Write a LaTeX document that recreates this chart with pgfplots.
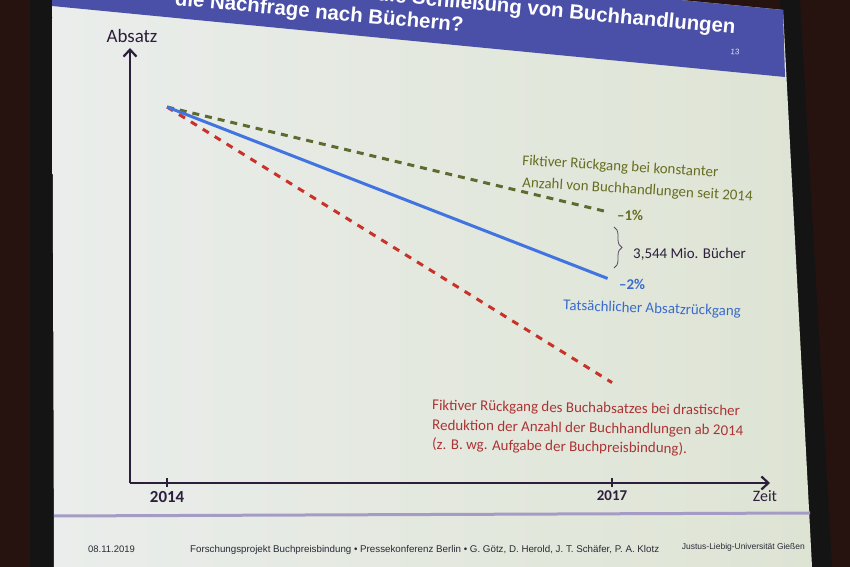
\documentclass[border=0pt]{standalone}
\usepackage{fontspec}
\setmainfont{Carlito}
\newfontfamily\arialfont{Liberation Sans}
\usepackage{pgfplots}
\pgfplotsset{compat=1.18}
\usetikzlibrary{arrows.meta,decorations.pathreplacing}
\definecolor{framebrown}{HTML}{26130F}
\definecolor{slideL}{HTML}{EAEDEB}
\definecolor{slideR}{HTML}{DEE4D4}
\definecolor{bandblue}{HTML}{4A4FA8}
\definecolor{axisdark}{HTML}{2D1E3C}
\definecolor{olivetext}{HTML}{676D20}
\definecolor{oliveline}{HTML}{5F6A2E}
\definecolor{blueline}{HTML}{4173E1}
\definecolor{bluetext}{HTML}{3A6BCC}
\definecolor{redline}{HTML}{C83228}
\definecolor{redtext}{HTML}{AC3434}
\definecolor{footline}{HTML}{A49CC4}
\definecolor{foottext}{HTML}{2A2A35}
\begin{document}
\begin{tikzpicture}[x=1bp,y=1bp]
\useasboundingbox (0,0) rectangle (850,567);
\clip (0,0) rectangle (850,567);
% background (projected slide)
\fill[framebrown] (0,0) rectangle (850,567);
\fill[black!92] (30,0) rectangle (54,567);
\fill[black!92] (780,567) -- (800,567) -- (832,0) -- (810,0) -- cycle;
\shade[left color=slideL, right color=slideR] (52,628) -- (783,557) -- (812,0) -- (54,0) -- cycle;
\fill[bandblue] (52,628) -- (783,557) -- (785,490) -- (52,561) -- cycle;
\node[anchor=base east, rotate=-5.3, text=white, inner sep=0pt,
  font=\arialfont\bfseries\fontsize{20.5}{20.5}\selectfont] at (735,533) {die Schließung von Buchhandlungen};
\node[anchor=base east, rotate=-5.3, text=white, inner sep=0pt,
  font=\arialfont\bfseries\fontsize{20.5}{20.5}\selectfont] at (463,535) {die Nachfrage nach Büchern?};
\node[text=white!85!bandblue, font=\arialfont\fontsize{8}{8}\selectfont, rotate=-5] at (735,515) {13};
% footer
\draw[footline, line width=3bp] (54,51) -- (810,54);
\node[anchor=base west, inner sep=0pt, text=foottext, font=\arialfont\fontsize{9.5}{9.5}\selectfont] at (88,14) {08.11.2019};
\node[anchor=base west, inner sep=0pt, text=foottext, font=\arialfont\fontsize{9.8}{9.8}\selectfont] at (190,14) {Forschungsprojekt Buchpreisbindung • Pressekonferenz Berlin • G. Götz, D. Herold, J. T. Schäfer, P. A. Klotz};
\node[anchor=base east, inner sep=0pt, text=foottext, font=\arialfont\fontsize{8.5}{8.5}\selectfont] at (805,17) {Justus-Liebig-Universität Gießen};
% chart
\begin{axis}[
  at={(130bp,84bp)}, anchor=south west,
  scale only axis, width=640bp, height=435bp,
  xmin=2013.75, xmax=2018.065, ymin=0, ymax=115.7,
  axis lines=left, clip=false,
  axis line style={line width=2.2bp, color=axisdark, -{Straight Barb[length=7bp,width=13bp]}},
  xtick={2014,2017},
  xticklabels={{\fontsize{17}{17}\selectfont 2014},{\fontsize{15}{15}\selectfont 2017}},
  xticklabel style={text=axisdark, font=\bfseries},
  ytick=\empty,
  tick align=center, major tick length=9bp,
  tick style={line width=1.6bp, color=axisdark},
]
\addplot[oliveline, line width=3bp, dash pattern=on 7bp off 6bp] coordinates {(2014,100) (2016.95,72.3)};
\addplot[redline, line width=3bp, dash pattern=on 7bp off 7bp] coordinates {(2014,100) (2017.0,26.7)};
\addplot[blueline, line width=3bp] coordinates {(2014,100) (2016.97,54.4)};
\end{axis}
% axis titles
\node[text=axisdark, font=\fontsize{19}{19}\selectfont] at (132,531) {Absatz};
\node[text=axisdark, font=\fontsize{16}{16}\selectfont] at (765,71) {Zeit};
% annotations
\node[anchor=base west, inner sep=0pt, rotate=-3.5, text=olivetext, font=\fontsize{15}{15}\selectfont] at (522,402) {Fiktiver Rückgang bei konstanter};
\node[anchor=base west, inner sep=0pt, rotate=-3.5, text=olivetext, font=\fontsize{15}{15}\selectfont] at (522,380) {Anzahl von Buchhandlungen seit 2014};
\node[anchor=base west, inner sep=0pt, text=olivetext, font=\bfseries\fontsize{15}{15}\selectfont] at (617,346) {–1\%};
\draw[axisdark!80, line width=0.8bp, decorate, decoration={brace, amplitude=8bp, aspect=0.5}] (614,340) -- (614,299);
\node[anchor=base west, inner sep=0pt, text=axisdark, font=\fontsize{15}{15}\selectfont] at (633,308) {3,544 Mio. Bücher};
\node[anchor=base west, inner sep=0pt, text=bluetext, font=\bfseries\fontsize{15}{15}\selectfont] at (619,277) {–2\%};
\node[anchor=base west, inner sep=0pt, rotate=-2, text=bluetext, font=\fontsize{15}{15}\selectfont] at (563,257) {Tatsächlicher Absatzrückgang};
\node[anchor=base west, inner sep=0pt, rotate=-1, text=redtext, font=\fontsize{15}{15}\selectfont] at (432,157) {Fiktiver Rückgang des Buchabsatzes bei drastischer};
\node[anchor=base west, inner sep=0pt, rotate=-1, text=redtext, font=\fontsize{15}{15}\selectfont] at (432,137) {Reduktion der Anzahl der Buchhandlungen ab 2014};
\node[anchor=base west, inner sep=0pt, rotate=-1, text=redtext, font=\fontsize{15}{15}\selectfont] at (432,118) {(z. B. wg. Aufgabe der Buchpreisbindung).};
\end{tikzpicture}
\end{document}
